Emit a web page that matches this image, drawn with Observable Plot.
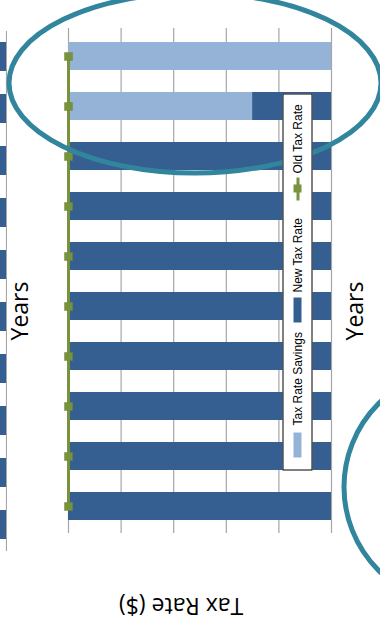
<!DOCTYPE html>
<html>
<head>
<meta charset="utf-8">
<script src="https://cdn.jsdelivr.net/npm/d3@7"></script>
<script src="https://cdn.jsdelivr.net/npm/@observablehq/plot@0.6"></script>
<style>
  html, body { margin: 0; padding: 0; background: #fff; }
  #wrap { position: relative; width: 380px; height: 633px; overflow: hidden; }
  #wrap svg { position: absolute; top: 0; }
  #legend { position: absolute; left: 108.5px; top: 266.5px; width: 377px; height: 30px;
    border: 1px solid #000; box-sizing: border-box; background: #fff;
    transform: rotate(-90deg); font: 12px "Liberation Sans", Arial, sans-serif; color: #000; }
  #legend .sw { position: absolute; }
  #legend .tx { position: absolute; top: 7px; white-space: nowrap; line-height: 14px; }
</style>
</head>
<body>
<div id="wrap"></div>
<script>
// ---- data ----
const years = ["Year 1", "Year 2", "Year 3", "Year 4", "Year 5", "Year 6", "Year 7", "Year 8", "Year 9", "Year 10"];
const taxRateSavings = [5, 3.5, 0, 0, 0, 0, 0, 0, 0, 0];
const newTaxRate = [0, 1.5, 5, 5, 5, 5, 5, 5, 5, 5];
const oldTaxRate = [0, 0, 0, 0, 0, 0, 0, 0, 0, 0];
const otherChartRate = [5, 5, 5, 5, 5, 5, 5, 5, 5, 5]; // partially visible chart at left edge
const xTicks = [0, 1, 2, 3, 4, 5];
const seriesNames = ["Tax Rate Savings", "New Tax Rate"];
const seriesColors = ["#95b3d7", "#365f91"];

const long = [];
years.forEach((y, i) => {
  long.push({year: y, series: seriesNames[0], value: taxRateSavings[i]});
  long.push({year: y, series: seriesNames[1], value: newTaxRate[i]});
});
const oldRows = years.map((y, i) => ({year: y, old: oldTaxRate[i]}));
const otherRows = years.map((y, i) => ({year: y, value: otherChartRate[i]}));

const wrap = document.getElementById("wrap");

// partially visible chart on the left edge
const partial = Plot.plot({
  width: 264, height: 633,
  marginLeft: 0, marginRight: 1, marginTop: 31, marginBottom: 82,
  x: {domain: [0, 5], axis: null},
  y: {domain: years, axis: null, paddingInner: 0.44, paddingOuter: 0.22},
  marks: [
    Plot.ruleX(xTicks, {stroke: "#a6a6a6", strokeWidth: 1.2}),
    Plot.barX(otherRows, {x: "value", y: "year", fill: seriesColors[1]})
  ]
});
partial.style.left = "-257px";
wrap.appendChild(partial);

// main chart
const labelStyle = {fontSize: 23, fontFamily: "Open Sans", fill: "#000", textAnchor: "middle", lineAnchor: "middle"};
const main = Plot.plot({
  width: 380, height: 633,
  marginLeft: 68, marginRight: 49, marginTop: 28, marginBottom: 100,
  x: {domain: [0, 5], axis: null},
  y: {domain: years, axis: null, paddingInner: 0.45, paddingOuter: 0.225},
  color: {domain: seriesNames, range: seriesColors},
  style: {background: "transparent"},
  marks: [
    Plot.ruleX(xTicks, {stroke: "#a6a6a6", strokeWidth: 1.2}),
    Plot.barX(long, Plot.stackX({x: "value", y: "year", fill: "series"})),
    Plot.lineX(oldRows, {x: "old", y: "year", stroke: "#77933c", strokeWidth: 3}),
    Plot.dot(oldRows, {x: "old", y: "year", symbol: "square", r: 4.5, fill: "#77933c", stroke: "#6f8a38", strokeWidth: 0.5}),
    Plot.text(["Years"], {frameAnchor: "left", dx: -48, dy: 30, rotate: -90, ...labelStyle}),
    Plot.text(["Years"], {frameAnchor: "right", dx: 24, dy: 30, rotate: -90, ...labelStyle}),
    Plot.text(["Tax Rate ($)"], {frameAnchor: "bottom", dx: -19, dy: 72, rotate: 180, ...labelStyle})
  ]
});
main.style.left = "0px";
wrap.appendChild(main);

// highlight ellipses (annotations)
const s = d3.select(main);
s.append("ellipse").attr("cx", 195).attr("cy", 83).attr("rx", 186).attr("ry", 90)
  .attr("fill", "none").attr("stroke", "#31859c").attr("stroke-width", 5);
s.append("circle").attr("cx", 462).attr("cy", 487).attr("r", 118)
  .attr("fill", "none").attr("stroke", "#31859c").attr("stroke-width", 5);

// legend (rotated)
const legend = document.createElement("div");
legend.id = "legend";
legend.innerHTML = `
  <div class="sw" style="left:12px;top:10px;width:25px;height:8px;background:${seriesColors[0]}"></div>
  <div class="tx" style="left:44px">${seriesNames[0]}</div>
  <div class="sw" style="left:147px;top:10px;width:25px;height:8px;background:${seriesColors[1]}"></div>
  <div class="tx" style="left:177px">${seriesNames[1]}</div>
  <div class="sw" style="left:269px;top:12.5px;width:23px;height:3px;background:#77933c"></div>
  <div class="sw" style="left:276.5px;top:10px;width:8px;height:8px;background:#77933c"></div>
  <div class="tx" style="left:296px">Old Tax Rate</div>`;
wrap.appendChild(legend);
</script>
</body>
</html>
